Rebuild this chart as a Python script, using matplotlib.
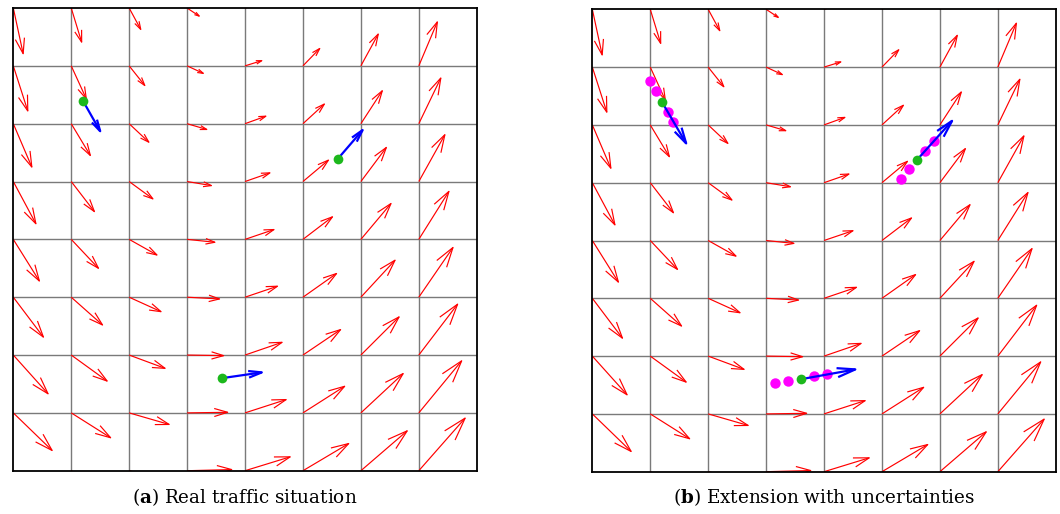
"""Traffic flow field on a grid: real situation vs. extension with uncertainties."""
import numpy as np
import matplotlib
matplotlib.use("Agg")
import matplotlib.pyplot as plt
from matplotlib.collections import LineCollection

plt.rcParams["mathtext.fontset"] = "custom"
plt.rcParams["mathtext.rm"] = "DejaVu Serif"
plt.rcParams["mathtext.bf"] = "DejaVu Serif:bold"

# grid nodes (cell units), rows listed from top (y=8) to bottom (y=0)
GRID_X = [0, 1, 2, 3, 4, 5, 6, 7]
GRID_Y = [8, 7, 6, 5, 4, 3, 2, 1, 0]

# flow field, horizontal component
FLOW_U = [
    [0.17, 0.18, 0.20, 0.21, 0.22, 0.22, 0.23, 0.25],
    [0.25, 0.26, 0.27, 0.28, 0.29, 0.29, 0.30, 0.32],
    [0.32, 0.33, 0.34, 0.34, 0.36, 0.37, 0.37, 0.38],
    [0.39, 0.40, 0.41, 0.42, 0.43, 0.44, 0.44, 0.45],
    [0.45, 0.47, 0.48, 0.48, 0.50, 0.51, 0.52, 0.52],
    [0.52, 0.54, 0.55, 0.56, 0.56, 0.58, 0.59, 0.59],
    [0.60, 0.62, 0.62, 0.63, 0.64, 0.65, 0.66, 0.67],
    [0.67, 0.68, 0.69, 0.70, 0.71, 0.72, 0.73, 0.74],
    [0.74, 0.75, 0.76, 0.77, 0.78, 0.79, 0.80, 0.80],
]
# flow field, vertical component
FLOW_V = [
    [-0.79, -0.59, -0.37, -0.14, 0.06, 0.27, 0.53, 0.74],
    [-0.78, -0.57, -0.34, -0.13, 0.09, 0.30, 0.55, 0.76],
    [-0.75, -0.55, -0.32, -0.10, 0.13, 0.34, 0.57, 0.79],
    [-0.73, -0.52, -0.30, -0.07, 0.15, 0.37, 0.59, 0.81],
    [-0.72, -0.50, -0.27, -0.05, 0.17, 0.39, 0.62, 0.83],
    [-0.69, -0.48, -0.25, -0.03, 0.19, 0.41, 0.64, 0.86],
    [-0.67, -0.45, -0.23, -0.01, 0.22, 0.44, 0.66, 0.88],
    [-0.65, -0.43, -0.20, 0.01, 0.23, 0.46, 0.68, 0.90],
    [-0.63, -0.41, -0.18, 0.02, 0.24, 0.47, 0.69, 0.91],
]

# vehicles
VEH_X = [1.20, 5.60, 3.60]
VEH_Y = [6.40, 5.39, 1.60]
VEH_U_A = [0.30, 0.43, 0.69]
VEH_V_A = [-0.53, 0.50, 0.10]
VEH_U_B = [0.42, 0.61, 0.94]
VEH_V_B = [-0.72, 0.68, 0.17]

# uncertain positions (offsets from each vehicle)
UNC_DX = [[-0.20, -0.10, 0.10, 0.20],
          [-0.28, -0.13, 0.14, 0.29],
          [-0.44, -0.22, 0.22, 0.45]]
UNC_DY = [[0.36, 0.18, -0.17, -0.35],
          [-0.33, -0.16, 0.16, 0.33],
          [-0.07, -0.03, 0.06, 0.09]]

CAPTIONS = [r"($\mathbf{a}$) Real traffic situation",
            r"($\mathbf{b}$) Extension with uncertainties"]


def arrow_segments(x, y, u, v, alpha=0.33, beta=0.30):
    """shaft + open head, matlab-quiver style"""
    x, y, u, v = (np.asarray(a, float).ravel() for a in (x, y, u, v))
    tx, ty = x + u, y + v
    segs = []
    for i in range(len(x)):
        segs.append([(x[i], y[i]), (tx[i], ty[i])])
        h1 = (tx[i] - alpha * (u[i] + beta * v[i]), ty[i] - alpha * (v[i] - beta * u[i]))
        h2 = (tx[i] - alpha * (u[i] - beta * v[i]), ty[i] - alpha * (v[i] + beta * u[i]))
        segs.append([h1, (tx[i], ty[i]), h2])
    return segs


gx, gy = np.meshgrid(GRID_X, GRID_Y)

fig = plt.figure(figsize=(10.6, 5.14), dpi=100)
ax_a = fig.add_axes([0.01255, 0.0842, 0.4372, 0.9002])
ax_b = fig.add_axes([0.5588, 0.0823, 0.4372, 0.8996])

for k, ax in enumerate((ax_a, ax_b)):
    ax.set_xlim(0, 8)
    ax.set_ylim(0, 8)
    ax.set_xticks([])
    ax.set_yticks([])
    for t in range(1, 8):
        ax.axvline(t, color="#7a7a7a", lw=1.0, zorder=1)
        ax.axhline(t, color="#7a7a7a", lw=1.0, zorder=1)
    for s in ax.spines.values():
        s.set_linewidth(1.3)
        s.set_color("black")

    ax.add_collection(LineCollection(arrow_segments(gx, gy, FLOW_U, FLOW_V),
                                     colors="red", linewidths=0.85, zorder=2))

    vu, vv = (VEH_U_A, VEH_V_A) if k == 0 else (VEH_U_B, VEH_V_B)
    if k == 1:
        for i in range(len(VEH_X)):
            ax.plot(np.add(VEH_X[i], UNC_DX[i]), np.add(VEH_Y[i], UNC_DY[i]), "o",
                    color="magenta", ms=7.5, mec="none", zorder=3)
    ax.add_collection(LineCollection(arrow_segments(VEH_X, VEH_Y, vu, vv, beta=0.25),
                                     colors="blue", linewidths=1.6, zorder=4))
    ax.plot(VEH_X, VEH_Y, "o", color="#1cb81c", ms=7, mec="none", zorder=5)

    pos = ax.get_position()
    fig.text(pos.x0 + pos.width / 2, 1 - 497 / 514, CAPTIONS[k], ha="center", va="center",
             fontsize=13.2, family="DejaVu Serif")

fig.savefig("out.png", dpi=100)
